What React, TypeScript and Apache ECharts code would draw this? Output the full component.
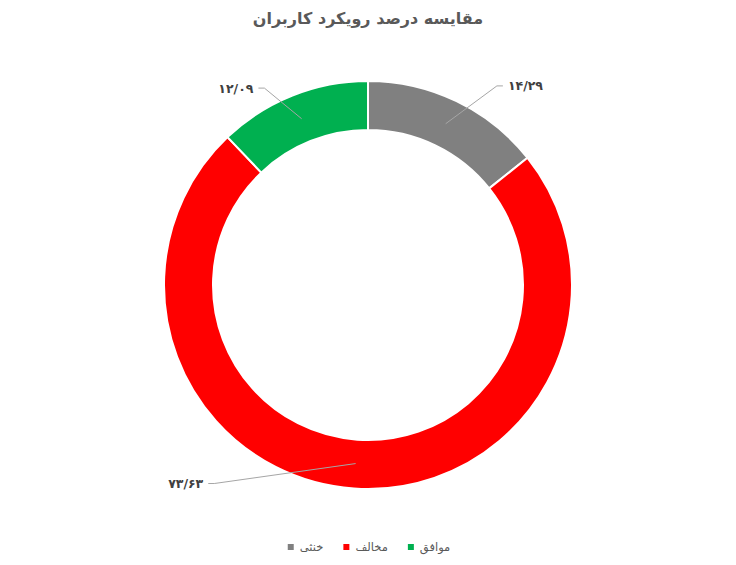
import { useEffect, useRef } from "react";
import * as echarts from "echarts";

const TITLE = "مقایسه درصد رویکرد کاربران";
const NAMES = ["خنثی", "مخالف", "موافق"];
const VALUES = [14.29, 73.63, 12.09];
const COLORS = ["#808080", "#FF0000", "#00B050"];
// label line lengths per slice (first radial segment, horizontal segment)
const LINE_LEN = [
  [42, 39],
  [20, 146],
  [33, 31],
];

const FONT = "'DejaVu Sans', sans-serif";
const FA_DIGITS = "۰۱۲۳۴۵۶۷۸۹";
const toFa = (v: number) =>
  v
    .toFixed(2)
    .replace(".", "/")
    .replace(/\d/g, (d) => FA_DIGITS[Number(d)]);

export default function App() {
  const ref = useRef<HTMLDivElement>(null);

  useEffect(() => {
    document.body.style.margin = "0";
    if (!ref.current) return;
    const chart = echarts.init(ref.current, undefined, { renderer: "svg" });
    const data = NAMES.map((name, i) => ({ name, value: VALUES[i] }));

    chart.setOption({
      animation: false,
      textStyle: { fontFamily: FONT },
      color: COLORS,
      title: {
        text: TITLE,
        left: "center",
        top: 5,
        textStyle: { color: "#595959", fontSize: 16, fontWeight: "bold", fontFamily: FONT },
      },
      legend: {
        data: NAMES,
        bottom: 7,
        left: "center",
        icon: "rect",
        itemWidth: 8,
        itemHeight: 8,
        itemGap: 18,
        textStyle: { color: "#595959", fontSize: 11.5, fontFamily: FONT },
      },
      series: [
        {
          type: "pie",
          z: 2,
          center: [368, 285],
          radius: [155, 204],
          startAngle: 90,
          silent: true,
          label: { show: false },
          labelLine: { show: false },
          itemStyle: { borderColor: "#FFFFFF", borderWidth: 2 },
          data,
        },
        {
          type: "pie",
          z: 5,
          center: [368, 285],
          radius: [0, 179],
          startAngle: 90,
          silent: true,
          avoidLabelOverlap: false,
          itemStyle: { color: "transparent", borderWidth: 0 },
          label: {
            show: true,
            position: "outside",
            color: "#404040",
            fontSize: 12.5,
            fontWeight: "bold",
            fontFamily: FONT,
            distanceToLabelLine: 5,
            formatter: (p: { value: number }) => toFa(p.value),
          },
          labelLine: { show: true, lineStyle: { color: "#A6A6A6", width: 1 } },
          labelLayout: (params: { labelLinePoints?: number[][] }) => {
            const pts = params.labelLinePoints;
            if (!pts) return {};
            const [p0, , p2] = pts;
            const dir = p2[0] > p0[0] ? -1 : 1;
            return { labelLinePoints: [p0, [p2[0] + dir * 6, p2[1]], p2] };
          },
          data: data.map((d, i) => ({
            ...d,
            labelLine: { length: LINE_LEN[i][0], length2: LINE_LEN[i][1] },
          })),
        },
      ],
    });

    return () => chart.dispose();
  }, []);

  return <div ref={ref} style={{ width: 736, height: 565 }} />;
}
